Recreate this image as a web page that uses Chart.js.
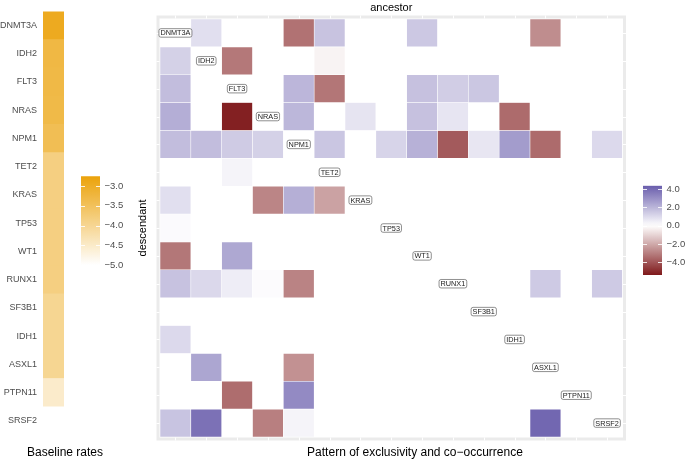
<!DOCTYPE html>
<html lang="en">
<head>
<meta charset="UTF-8" />
<title>Baseline rates and pattern of exclusivity</title>
<script src="https://cdn.jsdelivr.net/npm/chart.js@4"></script>
<style>
  html, body { margin: 0; padding: 0; background: #fff; }
  #page { position: relative; width: 685px; height: 464px; overflow: hidden; font-family: "Liberation Sans", Arial, sans-serif; }
  #page canvas { position: absolute; }
  .caption { position: absolute; top: 445px; font-size: 12px; line-height: 14px; color: #000; text-align: center; white-space: nowrap; }
</style>
</head>
<body>
<div id="page">
  <canvas id="pattern" width="685" height="464" style="left:0;top:0"></canvas>
  <canvas id="baseline" width="70" height="464" style="left:0;top:0"></canvas>
  <canvas id="baselineKey" width="59" height="120" style="left:71px;top:166px"></canvas>
  <canvas id="patternKey" width="59" height="120" style="left:633px;top:175px"></canvas>
  <div class="caption" style="left:0;width:130px">Baseline rates</div>
  <div class="caption" style="left:265px;width:300px">Pattern of exclusivity and co&minus;occurrence</div>
</div>

<script>
const _ = null;

const genes = ["DNMT3A", "IDH2", "FLT3", "NRAS", "NPM1", "TET2", "KRAS", "TP53",
               "WT1", "RUNX1", "SF3B1", "IDH1", "ASXL1", "PTPN11", "SRSF2"];

// log baseline rate per gene
const baseline = [-2.95, -3.28, -3.3, -3.32, -3.43, -3.84, -3.84, -3.84,
                  -3.84, -3.84, -4.0, -4.0, -4.0, -4.52, -5.0];

// rows = descendant, columns = ancestor (same gene order)
const pattern = [
  [_, 0.86, _, _, -3.31, 1.61, _, _, 1.48, _, _, _, -2.68, _, _],
  [1.24, _, -3.17, _, _, -0.28, _, _, _, _, _, _, _, _, _],
  [1.78, _, _, _, 1.96, -3.22, _, _, 1.67, 1.35, 1.5, _, _, _, _],
  [2.18, _, -5.24, _, 1.94, _, 0.73, _, 1.67, 0.7, _, -3.47, _, _, _],
  [1.78, 1.78, 1.4, 1.24, _, 1.53, _, 1.16, 2.1, -3.87, 0.67, 2.66, -3.47, _, 1.02],
  [_, _, 0.3, _, _, _, _, _, _, _, _, _, _, _, _],
  [0.86, _, _, -2.86, 2.15, -2.18, _, _, _, _, _, _, _, _, _],
  [0.13, _, _, _, _, _, _, _, _, _, _, _, _, _, _],
  [-3.19, _, 2.34, _, _, _, _, _, _, _, _, _, _, _, _],
  [1.64, 1.05, 0.48, 0.1, -2.91, _, _, _, _, _, _, _, 1.43, _, 1.43],
  [_, _, _, _, _, _, _, _, _, _, _, _, _, _, _],
  [1.02, _, _, _, _, _, _, _, _, _, _, _, _, _, _],
  [_, 2.4, _, _, -2.58, _, _, _, _, _, _, _, _, _, _],
  [_, _, -3.43, _, 3.15, _, _, _, _, _, _, _, _, _, _],
  [1.59, 3.82, _, -3.0, 0.3, _, _, _, _, _, _, _, 4.1, _, _]
];

const patternRange = [-5.4, 4.36];
const patternTicks = [4, 2, 0, -2, -4];
const baselineRange = [-5.0, -2.75];
const baselineTicks = [-3, -3.5, -4, -4.5, -5];

const LOW = [127, 25, 27];
const HIGH = [105, 93, 172];
const ORANGE = [235, 162, 10];

Chart.defaults.font.family = '"Liberation Sans", Arial, sans-serif';

function mix(c, t) {
  t = Math.max(0, Math.min(1, t));
  const ch = i => Math.round(255 + (c[i] - 255) * t);
  return `rgb(${ch(0)},${ch(1)},${ch(2)})`;
}

function patternColour(v) {
  if (v >= 0) return mix(HIGH, v / patternRange[1]);
  return mix(LOW, v / patternRange[0]);
}

function baselineColour(v) {
  return mix(ORANGE, (v - baselineRange[0]) / (baselineRange[1] - baselineRange[0]));
}

function fmt(v) {
  return (v < 0 ? "\u2212" : "") + Math.abs(v).toFixed(1);
}

// the key bar spans the whole chart area, so the gradient runs bottom -> top
function barGradient(chart, range, colourFn) {
  const a = chart.chartArea;
  if (!a || !isFinite(a.top) || !isFinite(a.bottom)) return colourFn(range[1]);
  const g = chart.ctx.createLinearGradient(0, a.bottom, 0, a.top);
  for (let i = 0; i <= 24; i++) {
    const v = range[0] + (range[1] - range[0]) * i / 24;
    g.addColorStop(i / 24, colourFn(v));
  }
  return g;
}

// small white ticks inside the colour bars
const barTicks = {
  id: "barTicks",
  afterDatasetsDraw(chart, args, opts) {
    const { ctx, chartArea: a, scales: { y } } = chart;
    ctx.save();
    ctx.strokeStyle = "rgba(255,255,255,0.85)";
    ctx.lineWidth = 1;
    opts.ticks.forEach(v => {
      const py = Math.round(y.getPixelForValue(v)) + 0.5;
      ctx.beginPath();
      ctx.moveTo(a.left, py); ctx.lineTo(a.left + 4, py);
      ctx.moveTo(a.right - 4, py); ctx.lineTo(a.right, py);
      ctx.stroke();
    });
    ctx.restore();
  }
};

const panelFrame = {
  id: "panelFrame",
  beforeDatasetsDraw(chart) {
    const { ctx, chartArea: a, scales: { x, y } } = chart;
    ctx.save();
    ctx.strokeStyle = "#ebebeb";
    ctx.lineWidth = 3;
    ctx.strokeRect(a.left - 2, a.top - 2, a.width + 4, a.height + 4);
    ctx.strokeStyle = "#fff";
    ctx.lineWidth = 1;
    genes.forEach((g, i) => {
      const px = Math.round(x.getPixelForValue(i)) + 0.5;
      const py = Math.round(y.getPixelForValue(i)) + 0.5;
      ctx.beginPath();
      ctx.moveTo(px, a.top - 3.5); ctx.lineTo(px, a.top - 0.5);
      ctx.moveTo(px, a.bottom + 0.5); ctx.lineTo(px, a.bottom + 3.5);
      ctx.moveTo(a.left - 3.5, py); ctx.lineTo(a.left - 0.5, py);
      ctx.moveTo(a.right + 0.5, py); ctx.lineTo(a.right + 3.5, py);
      ctx.stroke();
    });
    ctx.restore();
  }
};

// gene name boxes on the diagonal
const diagonalLabels = {
  id: "diagonalLabels",
  afterDatasetsDraw(chart) {
    const { ctx, scales: { x, y } } = chart;
    ctx.save();
    ctx.font = '7.3px "Liberation Sans", Arial, sans-serif';
    ctx.textAlign = "center";
    ctx.textBaseline = "middle";
    genes.forEach((g, i) => {
      const cx = x.getPixelForValue(i), cy = y.getPixelForValue(i);
      const w = ctx.measureText(g).width + 3, h = 8.5;
      ctx.beginPath();
      ctx.roundRect(cx - w / 2, cy - h / 2, w, h, 2);
      ctx.fillStyle = "#fff";
      ctx.fill();
      ctx.strokeStyle = "#444";
      ctx.lineWidth = 0.6;
      ctx.stroke();
      ctx.fillStyle = "#222";
      ctx.fillText(g, cx, cy + 0.5);
    });
    ctx.restore();
  }
};

new Chart(document.getElementById("pattern"), {
  type: "bar",
  data: {
    labels: genes,
    datasets: pattern.map((row, r) => ({
      label: genes[r],
      data: row.map(v => v === null ? null : [r - 0.5, r + 0.5]),
      backgroundColor: row.map(v => v === null ? "rgba(0,0,0,0)" : patternColour(v)),
      borderColor: "rgba(255,255,255,0.5)",
      borderWidth: 0.6,
      borderSkipped: false,
      grouped: false,
      barPercentage: 1,
      categoryPercentage: 1
    }))
  },
  options: {
    responsive: false,
    animation: false,
    layout: { padding: { left: 132, right: 62.5, top: 0, bottom: 27 } },
    plugins: { legend: { display: false }, tooltip: { enabled: false } },
    scales: {
      x: {
        position: "top",
        grid: { display: false, drawTicks: false },
        border: { display: false },
        ticks: { display: false },
        title: { display: true, text: "ancestor", color: "#000", font: { size: 11 }, padding: { top: 1, bottom: 0 } },
        afterFit: s => { s.height = 19; }
      },
      y: {
        reverse: true,
        min: -0.5,
        max: 14.5,
        grid: { display: false, drawTicks: false },
        border: { display: false },
        ticks: { display: false },
        title: { display: true, text: "descendant", color: "#000", font: { size: 11 }, padding: { top: 4, bottom: 0 } },
        afterFit: s => { s.width = 28; }
      }
    }
  },
  plugins: [panelFrame, diagonalLabels]
});

new Chart(document.getElementById("baseline"), {
  type: "bar",
  data: {
    labels: genes,
    datasets: [{
      data: genes.map(() => 1),
      backgroundColor: baseline.map(baselineColour),
      borderWidth: 0,
      barPercentage: 1,
      categoryPercentage: 1
    }]
  },
  options: {
    indexAxis: "y",
    responsive: false,
    animation: false,
    layout: { padding: { left: 0, right: 6, top: 3, bottom: 29 } },
    plugins: { legend: { display: false }, tooltip: { enabled: false } },
    scales: {
      x: { display: false, min: 0, max: 1 },
      y: {
        grid: { display: false, drawTicks: false },
        border: { display: false },
        ticks: { color: "#4d4d4d", font: { size: 9 }, padding: 6, autoSkip: false },
        afterFit: s => { s.width = 43; }
      }
    }
  }
});

function colourKey(id, range, ticks, colourFn, top, bottom) {
  return new Chart(document.getElementById(id), {
    type: "bar",
    data: {
      labels: [""],
      datasets: [{
        data: [range],
        backgroundColor: c => barGradient(c.chart, range, colourFn),
        borderWidth: 0,
        barPercentage: 1,
        categoryPercentage: 1
      }]
    },
    options: {
      responsive: false,
      animation: false,
      layout: { padding: { left: 10, right: 0, top: top, bottom: bottom } },
      plugins: { legend: { display: false }, tooltip: { enabled: false }, barTicks: { ticks: ticks } },
      scales: {
        x: { display: false },
        y: {
          position: "right",
          min: range[0],
          max: range[1],
          grid: { display: false, drawTicks: false },
          border: { display: false },
          afterBuildTicks: s => { s.ticks = ticks.map(v => ({ value: v })); },
          afterFit: s => { s.width = 30; },
          ticks: { color: "#4d4d4d", font: { size: 9.5 }, padding: 4.5, callback: v => fmt(v) }
        }
      }
    },
    plugins: [barTicks]
  });
}

colourKey("baselineKey", baselineRange, baselineTicks, baselineColour, 10, 21);
colourKey("patternKey", patternRange, patternTicks, patternColour, 10.7, 20);
</script>
</body>
</html>
